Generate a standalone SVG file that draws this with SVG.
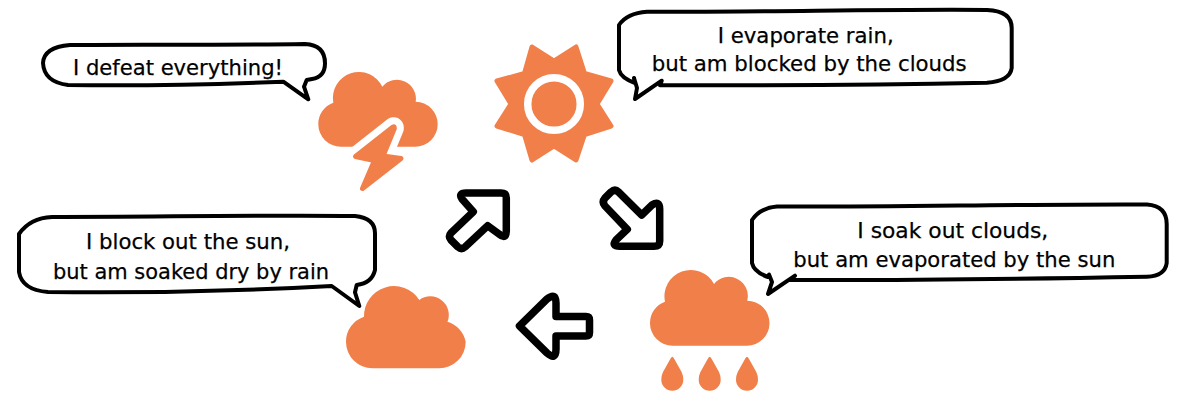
<svg xmlns="http://www.w3.org/2000/svg" width="1177" height="406" viewBox="0 0 1177 406">
<style>
.icon{fill:#f17f49}
.bubble{fill:#fff;stroke:#000;stroke-width:4;stroke-linejoin:round;stroke-linecap:round}
.arrow{fill:#fff;stroke:#000;stroke-width:7.5;stroke-linejoin:round}
text{font-family:"DejaVu Sans","Noto Sans",sans-serif;font-size:22px;fill:#000;stroke:#000;stroke-width:.25}
</style>
<rect width="1177" height="406" fill="#fff"/>
<g id="connectors">
<path class="arrow" d="M506.3,198 V231 Q506.3,240 499,234 L487.7,225.7 L465,247 Q461.5,250 458,247 L451,240 Q448,236.5 451,233 L473.3,211.7 L462,199 Q458,193 466,193 H501 Q506.3,193 506.3,198 Z"/>
<path class="arrow" d="M659.7,241 V209 Q659.7,200 652,205 L641.7,215 L618.5,192 Q615,188.500 611,192 L605,198 Q601.500,202 605,206 L627.3,229.3 L616,240 Q611,246.3 620,246.3 H654 Q659.7,246.3 659.7,241 Z"/>
<path class="arrow" d="M519.500,326 L547,299 Q556,292 556,303 V316.500 H586 Q589.500,316.500 589.500,320 V332.500 Q589.500,336 586,336 H556 V349 Q556,361 547,353 Z"/>
</g>
<g id="storm">
<path class="icon" d="M341,146.700 A22.500,22.500 0 0 1 318.300,124.200 A22.500,22.500 0 0 1 333.300,102.700 A26,26 0 0 1 382.300,86.700 A19,19 0 0 1 415.700,101.700 A22.500,22.500 0 0 1 437.700,124.200 A22.500,22.500 0 0 1 415,146.700 Z"/>
<path d="M393,127 L355.500,156.500 L374.500,160.500 L362.500,188.500 L401,158.500 L383,156 L394.300,128.500 Q394.500,126 393,127 Z" stroke="#fff" fill="#fff" stroke-width="19" stroke-linejoin="round"/>
<path class="icon" d="M393,127 L355.500,156.500 L374.500,160.500 L362.500,188.500 L401,158.500 L383,156 L394.300,128.500 Q394.500,126 393,127 Z" stroke="#f17f49" stroke-width="5" stroke-linejoin="round"/>
</g>
<g id="sun">
<path class="icon" stroke="#f17f49" stroke-width="5" stroke-linejoin="round" d="M532,47 L554,61 L576,47 L584.500,73.500 L611,81 L597,104 L611,126 L584.500,134.500 L576,160 L554,146 L532,160 L524.500,134.500 L497,126 L511,104 L497,81 L524.500,73.500 Z"/>
<circle cx="554" cy="104" r="26.300" fill="#f17f49" stroke="#fff" stroke-width="7.500"/>
</g>
<g id="cloud">
<path class="icon" d="M372.500,368.300 A26.500,26.500 0 0 1 346,341.800 A26.500,26.500 0 0 1 364,316.700 A30,30 0 0 1 419.300,300 A18.500,18.500 0 0 1 447.500,321.700 A26.500,26.500 0 0 1 465.700,341.800 A26.500,26.500 0 0 1 439,368.300 Z"/>
</g>
<g id="rain">
<path class="icon" d="M672.500,345.700 A22.500,22.500 0 0 1 650,323.200 A22.500,22.500 0 0 1 665,301.700 A26.300,26.300 0 0 1 714,284 A19,19 0 0 1 747.200,300.700 A22.500,22.500 0 0 1 769.500,323.200 A22.500,22.500 0 0 1 747,345.700 Z"/>
<path class="icon" d="M672.300,356.700 Q671.300,357 670,359.500 L663,372 Q661.300,375.500 661.300,379.700 A11,11 0 0 0 683.300,379.700 Q683.300,375.500 681.600,372 L674.600,359.500 Q673.300,357 672.300,356.700 Z"/>
<path class="icon" d="M709.700,356.700 Q708.700,357 707.400,359.500 L700.400,372 Q698.700,375.500 698.700,379.700 A11,11 0 0 0 720.700,379.700 Q720.700,375.500 719,372 L712,359.500 Q710.700,357 709.700,356.700 Z"/>
<path class="icon" d="M747,356.700 Q746,357 744.700,359.500 L737.700,372 Q736,375.500 736,379.700 A11,11 0 0 0 758,379.700 Q758,375.500 756.300,372 L749.300,359.500 Q748,357 747,356.700 Z"/>
</g>
<g id="bubble-storm">
<path class="bubble" d="M70,45 C140,44 220,45.500 305,44 Q325,45 325,63.300 Q325,77 312,79 L306.700,80 L304,86.700 L308.300,99.300 L283.300,81.700 C200,85 130,86 68,85 Q44,82 43,63 Q44,47 70,45 Z"/>
<text x="73" y="75" textLength="210" lengthAdjust="spacingAndGlyphs">I defeat everything!</text>
</g>
<g id="bubble-sun">
<path class="bubble" d="M619,25 Q627,13 647,11.700 C760,12.500 880,9 987,10 Q1011.700,11 1011.700,28 V68 Q1010,81 987,82.700 C870,85 760,85.500 660,85.300 L661.700,80.700 L635,99 L637,88 L634,78 L635,83 Q621,78 619,70 Z"/>
<text x="717.700" y="42.700" textLength="176" lengthAdjust="spacingAndGlyphs">I evaporate rain,</text>
<text x="651.700" y="71.300" textLength="315" lengthAdjust="spacingAndGlyphs">but am blocked by the clouds</text>
</g>
<g id="bubble-cloud">
<path class="bubble" d="M19,234 Q30,218 52,217 C150,217 260,215 355,216 Q375,218 375,233.300 V270 Q372,283 356.700,285 L355,292.300 L359.300,306 L331.700,286 C240,291 130,293 48,292 Q22,290 19,272 Z"/>
<text x="86" y="249" textLength="204" lengthAdjust="spacingAndGlyphs">I block out the sun,</text>
<text x="53" y="279" textLength="276" lengthAdjust="spacingAndGlyphs">but am soaked dry by rain</text>
</g>
<g id="bubble-rain">
<path class="bubble" d="M752,220 Q760,208 777,206.500 C900,207 1020,204 1147,204.500 Q1166.700,206 1166.700,224 V263 Q1165,276 1147,276.700 C1020,279 900,280.500 790,280 L795,275.700 L768,294 L772,282 L769,274.500 L768,277 Q754,272 752,263 Z"/>
<text x="857.300" y="237.700" textLength="191" lengthAdjust="spacingAndGlyphs">I soak out clouds,</text>
<text x="793.300" y="266.700" textLength="322" lengthAdjust="spacingAndGlyphs">but am evaporated by the sun</text>
</g>
</svg>
